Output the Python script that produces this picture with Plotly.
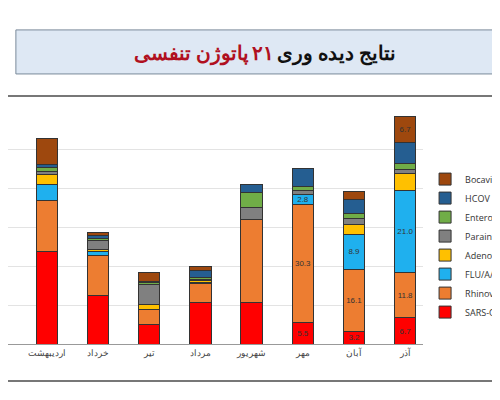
import plotly.graph_objects as go

months = ["اردیبهشت", "خرداد", "تیر", "مرداد", "شهریور", "مهر", "آبان", "آذر"]
sars = [23.7, 12.6, 4.9, 10.6, 10.8, 5.5, 3.2, 6.7]
rhino = [13.2, 10.3, 3.9, 4.9, 21.2, 30.3, 16.1, 11.8]
flu = [4.1, 0.8, 0.0, 0.3, 0.0, 2.8, 8.9, 21.0]
adeno = [2.6, 0.7, 1.5, 0.6, 0.0, 0.0, 2.5, 4.4]
para = [0.9, 2.3, 5.0, 0.3, 3.2, 1.0, 1.5, 1.0]
entero = [0.9, 0.5, 0.5, 0.3, 3.8, 1.0, 1.5, 1.5]
hcov = [0.7, 0.8, 0.3, 2.0, 2.1, 4.5, 3.5, 5.5]
boca = [6.7, 0.8, 2.2, 0.9, 0.0, 0.0, 2.0, 6.7]

sars_lbl = ["", "", "", "", "", "5.5", "3.2", "6.7"]
rhino_lbl = ["", "", "", "", "", "30.3", "16.1", "11.8"]
flu_lbl = ["", "", "", "", "", "2.8", "8.9", "21.0"]
boca_lbl = ["", "", "", "", "", "", "", "6.7"]

series = [
    ("SARS-CoV-2", sars, "#ff0000", sars_lbl),
    ("Rhinovirus", rhino, "#ed7d31", rhino_lbl),
    ("FLU/A/ B", flu, "#1fb0ee", flu_lbl),
    ("Adenovirus", adeno, "#ffc000", None),
    ("Parainfluenza", para, "#808080", None),
    ("Enterovirus", entero, "#70ad47", None),
    ("HCOV NL63", hcov, "#255e91", None),
    ("Bocavirus", boca, "#9e480e", boca_lbl),
]

fig = go.Figure()
for name, vals, col, lbl in series:
    fig.add_trace(go.Bar(
        x=months, y=vals, name=name, marker=dict(color=col, line=dict(color="#333", width=1)),
        width=0.42, text=lbl if lbl else None, textposition="inside",
        insidetextanchor="middle", textangle=0,
        textfont=dict(color="#333", size=9, family="Liberation Sans"),
        hoverinfo="skip"))

fig.update_layout(
    width=500, height=400, barmode="stack", paper_bgcolor="white", plot_bgcolor="white",
    margin=dict(l=0, r=85, t=103, b=64, autoexpand=False),
    xaxis=dict(range=[-0.76, 7.35], tickfont=dict(size=9, color="#444", family="Noto Sans"),
               showline=True, linecolor="#999", ticks=""),
    yaxis=dict(range=[0, 60], dtick=10, showticklabels=False, gridcolor="#e3e3e3", zeroline=False),
    legend=dict(x=1.005, y=0.77, xanchor="left", yanchor="top", traceorder="reversed",
                font=dict(size=9, color="#333", family="Open Sans"), tracegroupgap=5,
                itemwidth=30),
    uniformtext=dict(minsize=7, mode="show"),
    shapes=[
        dict(type="rect", xref="paper", yref="paper", x0=0.019, x1=1.23, y0=1.159, y1=1.348,
             fillcolor="#dee8f4", line=dict(color="#7a8a9a", width=1), layer="below"),
        dict(type="rect", xref="paper", yref="paper", x0=-0.01, x1=1.19, y0=-0.159, y1=1.064,
             fillcolor="rgba(0,0,0,0)", line=dict(color="#777", width=2), layer="below"),
        dict(type="path", xref="paper", yref="paper",
             path="M 1.17 0.95 L 1.185 1.03 L 1.21 1.03 L 1.21 0.91 L 1.19 0.91 Z",
             fillcolor="#c00000", line=dict(width=0)),
    ],
    annotations=[
        dict(text="<b>نتایج دیده وری</b>", xref="paper", yref="paper", x=0.94, y=1.253,
             xanchor="right", yanchor="middle", showarrow=False,
             font=dict(size=20, color="#111", family="Noto Sans")),
        dict(text="<b>۲۱</b>", xref="paper", yref="paper", x=0.645, y=1.253,
             xanchor="right", yanchor="middle", showarrow=False,
             font=dict(size=20, color="#b01020", family="Noto Sans")),
        dict(text="<b>پاتوژن تنفسی</b>", xref="paper", yref="paper", x=0.585, y=1.253,
             xanchor="right", yanchor="middle", showarrow=False,
             font=dict(size=20, color="#b01020", family="Noto Sans")),
    ],
)
fig.write_html("out.html")
